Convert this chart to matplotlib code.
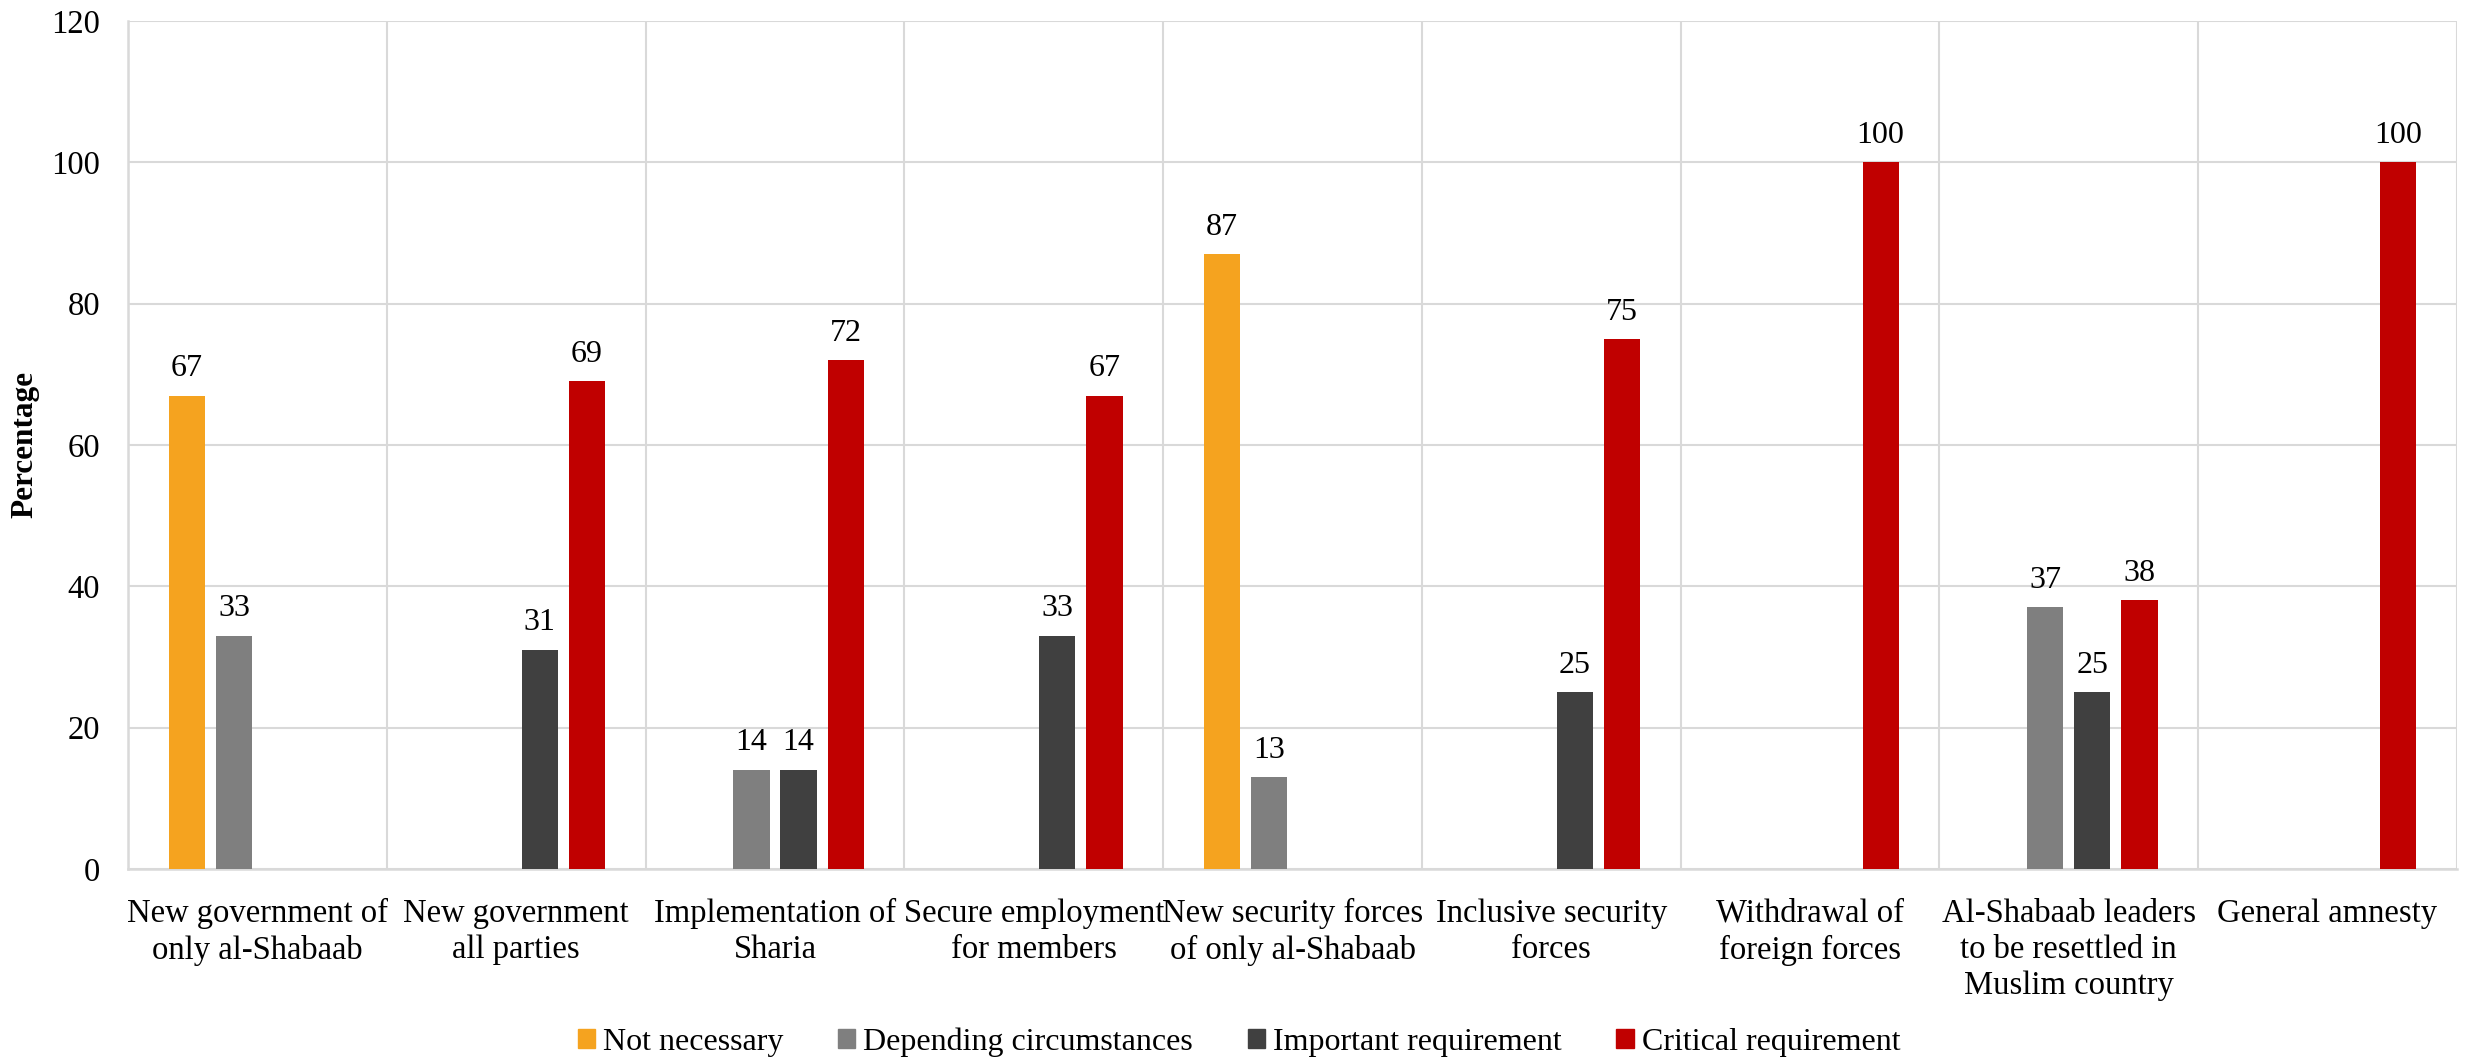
import numpy as np
import matplotlib
matplotlib.use('Agg')
import matplotlib.pyplot as plt
from matplotlib.patches import Patch

categories = [
    "New government of\nonly al-Shabaab",
    "New government\nall parties",
    "Implementation of\nSharia",
    "Secure employment\nfor members",
    "New security forces\nof only al-Shabaab",
    "Inclusive security\nforces",
    "Withdrawal of\nforeign forces",
    "Al-Shabaab leaders\nto be resettled in\nMuslim country",
    "General amnesty",
]
series_names = ["Not necessary", "Depending circumstances",
                "Important requirement", "Critical requirement"]
not_necessary = [67, 0, 0, 0, 87, 0, 0, 0, 0]
depending = [33, 0, 14, 0, 13, 0, 0, 37, 0]
important = [0, 31, 14, 33, 0, 25, 0, 25, 0]
critical = [0, 69, 72, 67, 0, 75, 100, 38, 100]
y_ticks = [0, 20, 40, 60, 80, 100, 120]

colors = ['#F5A31F', '#7F7F7F', '#404040', '#C00000']
series = [not_necessary, depending, important, critical]

plt.rcParams['font.family'] = ['Liberation Serif', 'DejaVu Serif']

fig = plt.figure(figsize=(24.78, 10.57), dpi=100)
ax = fig.add_axes([0.0517, 0.178, 0.9398, 0.802])

x = np.arange(len(categories))
width = 0.14
step = 0.182
for i, (vals, col) in enumerate(zip(series, colors)):
    offs = (i - 1.5) * step
    for xi, v in zip(x, vals):
        if v == 0:
            continue
        ax.bar(xi + offs, v, width=width, color=col, zorder=3)
        ax.annotate(str(v), (xi + offs, v), xytext=(0, 9), textcoords='offset points',
                    ha='center', va='bottom', fontsize=23)

ax.set_xlim(-0.5, len(categories) - 0.5)
ax.set_ylim(0, 120)
ax.set_yticks(y_ticks)
ax.set_xticks(x)
ax.set_xticklabels(categories, fontsize=23.5, linespacing=1.25)
ax.set_xticks(np.arange(-0.5, len(categories), 1.0), minor=True)
ax.tick_params(axis='both', which='both', length=0)
ax.tick_params(axis='y', labelsize=23.5, pad=20)
ax.tick_params(axis='x', pad=21)
ax.grid(axis='y', which='major', color='#D9D9D9', linewidth=1.5, zorder=0)
ax.grid(axis='x', which='minor', color='#D9D9D9', linewidth=1.5, zorder=0)
for s in ['top', 'right']:
    ax.spines[s].set_visible(False)
for s in ['left', 'bottom']:
    ax.spines[s].set_color('#D9D9D9')
    ax.spines[s].set_linewidth(1.8)

ax.set_ylabel('Percentage', fontsize=22.5, fontweight='bold')
ax.yaxis.set_label_coords(-0.038, 0.5)

handles = [Patch(color=c, label=n) for c, n in zip(colors, series_names)]
fig.legend(handles=handles, loc='center', bbox_to_anchor=(0.5, 0.014), ncol=4,
           frameon=False, fontsize=23, handlelength=0.55, handleheight=0.55,
           handletextpad=0.25, columnspacing=1.7)

fig.savefig('out.png', dpi=100)
